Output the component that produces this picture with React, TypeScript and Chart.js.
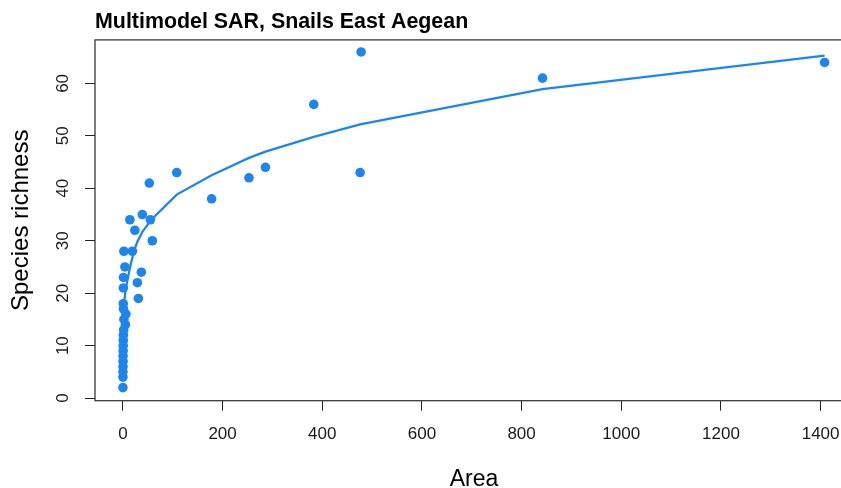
import React, { useEffect, useRef } from "react";
import { Chart, registerables } from "chart.js";

Chart.register(...registerables);

// Observed islands: area and species richness
const areaValues = [
  0.02, 0.05, 0.1, 0.2, 0.3, 0.4, 0.5, 0.6, 0.8, 1.0, 1.5, 5, 2, 6, 1.2, 0.7,
  0.9, 1.1, 4, 2, 19, 14, 24, 29, 31, 37, 39, 53, 55, 59, 108, 178, 253, 286,
  383, 476, 478, 842, 1408,
];
const richnessValues = [
  2, 4, 5, 6, 7, 8, 9, 10, 11, 12, 13, 14, 15, 16, 17, 18,
  21, 23, 25, 28, 28, 34, 32, 22, 19, 24, 35, 41, 34, 30, 43, 38, 42, 44,
  56, 43, 66, 61, 64,
];

// Multimodel SAR fitted curve
const fitArea = [
  0.02, 0.3, 1, 2, 4, 6, 14, 19, 24, 29, 37, 39, 53, 59, 108, 178, 253, 286,
  383, 476, 842, 1408,
];
const fitRichness = [
  6, 11, 15, 17, 19.5, 21, 24.8, 26.8, 28.5, 29.8, 31.3, 31.7, 33.5, 34.2,
  38.8, 42.5, 45.8, 47, 49.8, 52.2, 58.9, 65.3,
];

const xTicks = [0, 200, 400, 600, 800, 1000, 1200, 1400];
const yTicks = [0, 10, 20, 30, 40, 50, 60];

const titleText = "Multimodel SAR, Snails East Aegean";
const xTitle = "Area";
const yTitle = "Species richness";

const BLUE = "#1C86EE";
const FONT = "'Liberation Sans', Arial, Helvetica, sans-serif";

export default function App() {
  const ref = useRef<HTMLCanvasElement>(null);

  useEffect(() => {
    document.body.style.margin = "0";
    const canvas = ref.current;
    if (!canvas) return;

    const boxPlugin = {
      id: "rbox",
      afterDatasetsDraw(chart: any) {
        const { ctx, chartArea: a } = chart;
        ctx.save();
        ctx.strokeStyle = "#3a3a3a";
        ctx.lineWidth = 1.3;
        ctx.strokeRect(a.left, a.top, a.right - a.left, a.bottom - a.top);
        const ys = chart.scales.y;
        ctx.fillStyle = "#1a1a1a";
        ctx.font = `17px ${FONT}`;
        ctx.textAlign = "center";
        ctx.textBaseline = "middle";
        yTicks.forEach((v) => {
          const py = ys.getPixelForValue(v);
          ctx.save();
          ctx.translate(a.left - 31.5, py);
          ctx.rotate(-Math.PI / 2);
          ctx.fillText(String(v), 0, 0);
          ctx.restore();
        });
        ctx.restore();
      },
    };

    const chart = new Chart(canvas, {
      type: "scatter",
      data: {
        datasets: [
          {
            label: "fit",
            data: fitArea.map((x, i) => ({ x, y: fitRichness[i] })),
            showLine: true,
            borderColor: BLUE,
            backgroundColor: BLUE,
            borderWidth: 2.3,
            pointRadius: 0,
            tension: 0,
            order: 0,
          },
          {
            label: "islands",
            data: areaValues.map((x, i) => ({ x, y: richnessValues[i] })),
            backgroundColor: BLUE,
            borderColor: BLUE,
            borderWidth: 0,
            pointRadius: 4.8,
            order: 1,
          },
        ],
      },
      options: {
        responsive: false,
        animation: false,
        devicePixelRatio: 1,
        layout: { padding: { left: 0, right: 7, top: 0, bottom: 0 } },
        plugins: {
          legend: { display: false },
          tooltip: { enabled: false },
          title: {
            display: true,
            text: titleText,
            align: "start",
            fullSize: false,
            color: "#000",
            font: { family: FONT, size: 21.4, weight: "bold", lineHeight: 1.2 },
            padding: { top: 9.6, bottom: 4.6 },
          },
        },
        scales: {
          x: {
            type: "linear",
            min: -56,
            max: 1465,
            afterBuildTicks: (s: any) => {
              s.ticks = xTicks.map((v) => ({ value: v }));
            },
            afterFit: (s: any) => {
              s.height = 87.3;
            },
            border: { display: false },
            grid: {
              drawOnChartArea: false,
              drawTicks: true,
              tickLength: 10,
              color: "#222",
              lineWidth: 1,
            },
            ticks: {
              color: "#1a1a1a",
              font: { family: FONT, size: 17 },
              padding: 13.5,
              maxRotation: 0,
              autoSkip: false,
              callback: (v: any) => String(v),
            },
            title: {
              display: true,
              text: xTitle,
              color: "#000",
              font: { family: FONT, size: 23, lineHeight: 1 },
              padding: { top: 0, bottom: -3.5 },
            },
          },
          y: {
            type: "linear",
            min: -0.5,
            max: 68.3,
            afterBuildTicks: (s: any) => {
              s.ticks = yTicks.map((v) => ({ value: v }));
            },
            afterFit: (s: any) => {
              s.width = 95;
            },
            border: { display: false },
            grid: {
              drawOnChartArea: false,
              drawTicks: true,
              tickLength: 10,
              color: "#222",
              lineWidth: 1,
            },
            ticks: { display: false },
            title: {
              display: true,
              text: yTitle,
              color: "#000",
              font: { family: FONT, size: 24, lineHeight: 1 },
              padding: { top: 9, bottom: 0 },
            },
          },
        },
      },
      plugins: [boxPlugin],
    });

    return () => {
      chart.destroy();
    };
  }, []);

  return (
    <div style={{ width: 841, height: 488, overflow: "hidden", background: "#fff" }}>
      <canvas ref={ref} width={860} height={488} style={{ display: "block" }} />
    </div>
  );
}
